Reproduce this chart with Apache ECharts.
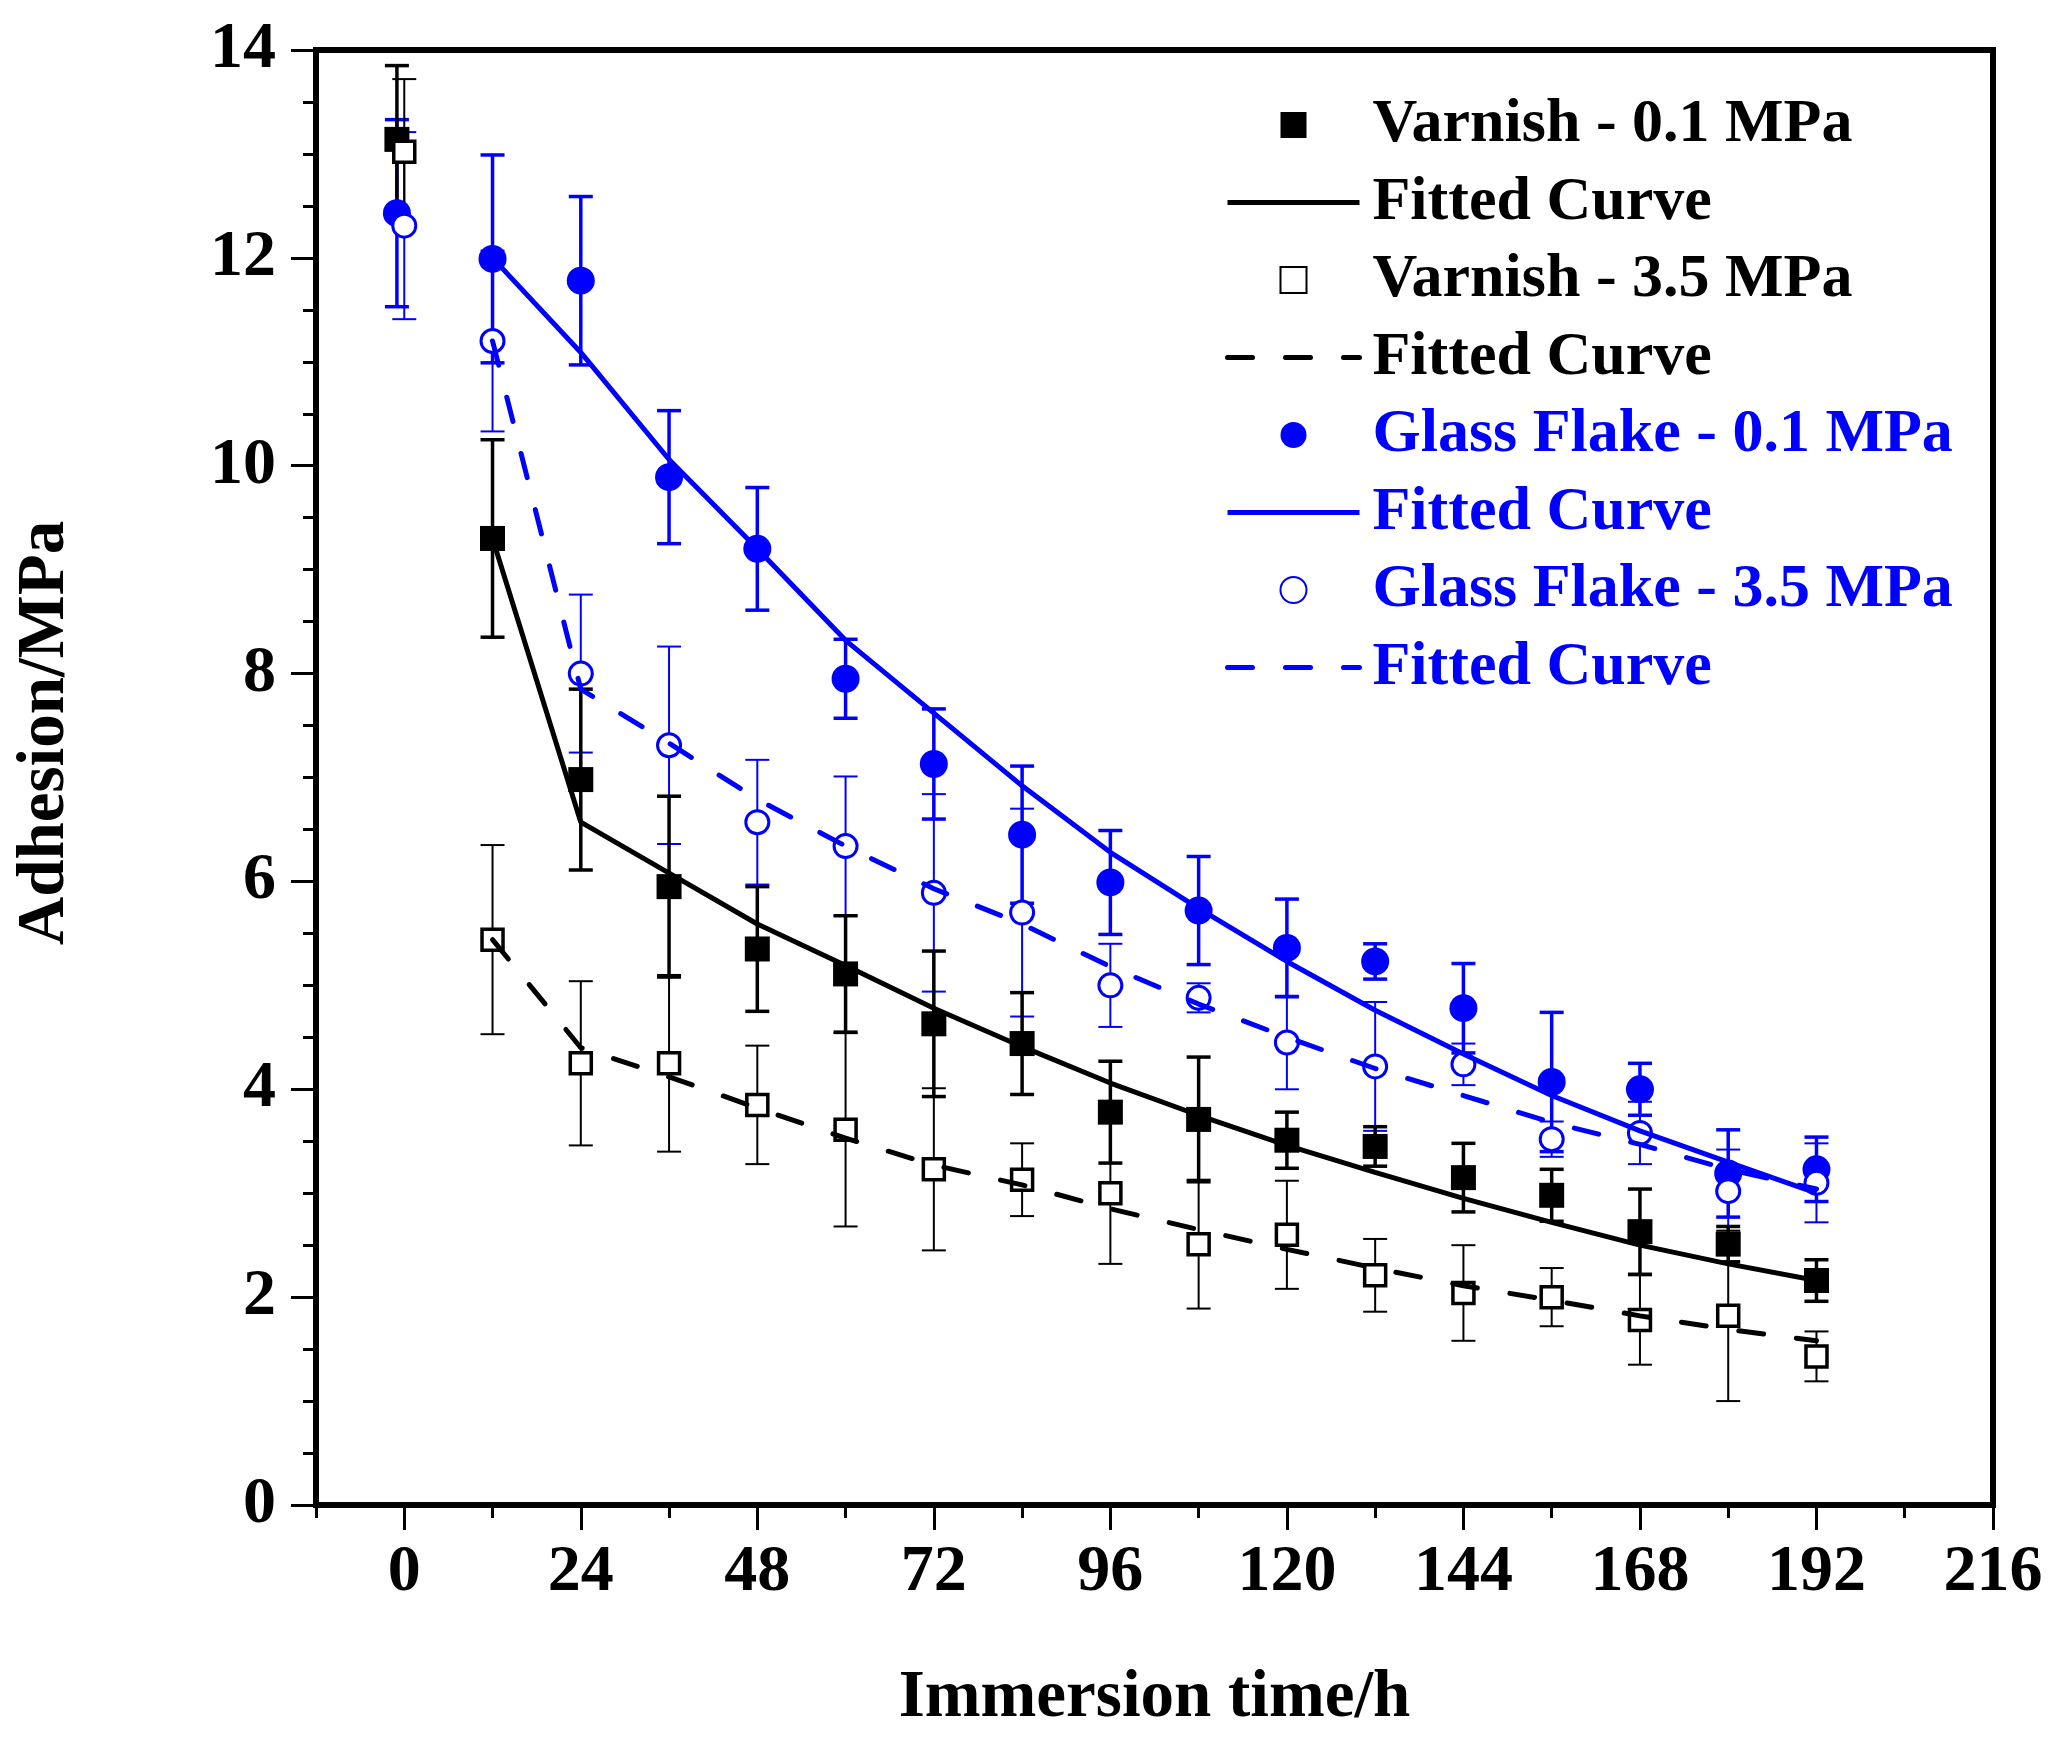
<!DOCTYPE html>
<html><head><meta charset="utf-8">
<script src="https://cdn.jsdelivr.net/npm/echarts@6/dist/echarts.min.js"></script>
<style>html,body{margin:0;padding:0;background:#fff}#c{width:2056px;height:1737px}</style>
</head><body><div id="c"></div>
<script>
// sample times (h); the 0.1 MPa points at t=0 are drawn slightly left of 0 in the original
const timesLow  = [-1, 12, 24, 36, 48, 60, 72, 84, 96, 108, 120, 132, 144, 156, 168, 180, 192];
const timesHigh = [0, 12, 24, 36, 48, 60, 72, 84, 96, 108, 120, 132, 144, 156, 168, 180, 192];
const fitTimes  = [12, 24, 36, 48, 60, 72, 84, 96, 108, 120, 132, 144, 156, 168, 180, 192];

const varnish01    = [13.14, 9.30, 6.98, 5.95, 5.35, 5.11, 4.63, 4.44, 3.78, 3.71, 3.51, 3.45, 3.15, 2.98, 2.63, 2.51, 2.16];
const varnish01Err = [0.71, 0.95, 0.87, 0.87, 0.60, 0.56, 0.70, 0.49, 0.49, 0.60, 0.27, 0.19, 0.33, 0.25, 0.41, 0.17, 0.20];
const varnish35    = [13.02, 5.44, 4.25, 4.25, 3.85, 3.61, 3.23, 3.13, 3.00, 2.51, 2.60, 2.21, 2.04, 2.00, 1.78, 1.82, 1.43];
const varnish35Err = [0.70, 0.91, 0.79, 0.85, 0.57, 0.93, 0.78, 0.35, 0.68, 0.62, 0.52, 0.35, 0.46, 0.28, 0.43, 0.82, 0.24];
const glass01      = [12.43, 11.99, 11.78, 9.89, 9.20, 7.95, 7.13, 6.45, 5.99, 5.72, 5.36, 5.23, 4.78, 4.07, 4.00, 3.19, 3.23];
const glass01Err   = [0.90, 1.00, 0.81, 0.64, 0.59, 0.38, 0.53, 0.66, 0.50, 0.52, 0.47, 0.17, 0.43, 0.67, 0.25, 0.42, 0.31];
const glass35      = [12.31, 11.20, 8.00, 7.31, 6.57, 6.34, 5.89, 5.70, 5.00, 4.88, 4.45, 4.22, 4.24, 3.52, 3.58, 3.02, 3.10];
const glass35Err   = [0.90, 0.87, 0.76, 0.95, 0.60, 0.67, 0.95, 1.00, 0.40, 0.14, 0.45, 0.62, 0.20, 0.17, 0.30, 0.40, 0.38];

const fitVarnish01 = [9.30, 6.57, 6.08, 5.59, 5.19, 4.78, 4.41, 4.06, 3.75, 3.46, 3.20, 2.95, 2.72, 2.50, 2.32, 2.16];
const fitVarnish35 = [5.44, 4.40, 4.12, 3.82, 3.53, 3.27, 3.08, 2.85, 2.65, 2.46, 2.28, 2.11, 1.97, 1.82, 1.69, 1.58];
const fitGlass01   = [12.00, 11.09, 10.06, 9.20, 8.32, 7.62, 6.92, 6.28, 5.74, 5.23, 4.76, 4.34, 3.94, 3.60, 3.30, 3.00];
const fitGlass35   = [11.20, 7.85, 7.33, 6.79, 6.34, 5.93, 5.59, 5.18, 4.82, 4.50, 4.20, 3.94, 3.68, 3.47, 3.23, 3.04];

const xMajorTicks = [0, 24, 48, 72, 96, 120, 144, 168, 192, 216];
const xMinorTicks = [-12, 12, 36, 60, 84, 108, 132, 156, 180, 204];

const BLUE = '#0000ff', BLACK = '#000000';
const FONT = 'Liberation Serif';
const NOSYM = { color: 'rgba(0,0,0,0)', borderColor: 'rgba(0,0,0,0)', borderWidth: 0, opacity: 0 };
const SQUARE_ICON = 'path://M0,0L10,0L10,10L0,10Z';

const pts = (xs, ys) => xs.map((x, i) => [x, ys[i]]);
const errs = (xs, ys, es) => xs.map((x, i) => [x, ys[i] - es[i], ys[i] + es[i]]);

function errRender(color, width) {
  return function (params, api) {
    const x = api.value(0), lo = api.value(1), hi = api.value(2);
    const a = api.coord([x, hi]), b = api.coord([x, lo]);
    const hw = 12;
    const style = { stroke: color, lineWidth: width, fill: null };
    return { type: 'group', children: [
      { type: 'line', shape: { x1: a[0], y1: a[1], x2: b[0], y2: b[1] }, style: style },
      { type: 'line', shape: { x1: a[0] - hw, y1: a[1], x2: a[0] + hw, y2: a[1] }, style: style },
      { type: 'line', shape: { x1: b[0] - hw, y1: b[1], x2: b[0] + hw, y2: b[1] }, style: style }
    ]};
  };
}
function errSeries(name, data, color, width) {
  return { name: name, type: 'custom', renderItem: errRender(color, width), data: data,
           encode: { x: 0, y: [1, 2] }, z: 2, silent: true };
}

const chart = echarts.init(document.getElementById('c'), null, { renderer: 'canvas' });
chart.setOption({
  animation: false,
  backgroundColor: '#fff',
  grid: { left: 316, right: 63, top: 50, bottom: 230, show: true, borderColor: BLACK, borderWidth: 6 },
  xAxis: [{
    type: 'value', min: -12, max: 216, position: 'bottom',
    axisLine: { show: true, onZero: false, lineStyle: { color: BLACK, width: 6 } },
    axisTick: { show: true, customValues: xMajorTicks, length: 25, lineStyle: { color: BLACK, width: 3 } },
    axisLabel: { show: true, customValues: xMajorTicks, margin: 35, color: BLACK,
                 fontFamily: FONT, fontWeight: 'bold', fontSize: 66 },
    splitLine: { show: false },
    name: 'Immersion time/h', nameLocation: 'middle', nameGap: 160,
    nameTextStyle: { color: BLACK, fontFamily: FONT, fontWeight: 'bold', fontSize: 67 }
  }, {
    type: 'value', min: -12, max: 216, position: 'bottom',
    axisLine: { show: false, onZero: false },
    axisTick: { show: true, customValues: xMinorTicks, length: 13, lineStyle: { color: BLACK, width: 3 } },
    axisLabel: { show: false }, splitLine: { show: false }
  }],
  yAxis: {
    type: 'value', min: 0, max: 14, interval: 2,
    axisLine: { show: true, onZero: false, lineStyle: { color: BLACK, width: 6 } },
    axisTick: { show: true, length: 25, lineStyle: { color: BLACK, width: 3 } },
    minorTick: { show: true, splitNumber: 4, length: 13, lineStyle: { color: BLACK, width: 3 } },
    axisLabel: { margin: 40, color: BLACK, fontFamily: FONT, fontWeight: 'bold', fontSize: 66 },
    splitLine: { show: false }
  },
  graphic: [{
    type: 'text', x: 46, y: 733, rotation: Math.PI / 2,
    style: { text: 'Adhesion/MPa', fill: BLACK, font: 'bold 67px "Liberation Serif"',
             align: 'center', verticalAlign: 'middle' }
  }],
  legend: {
    orient: 'vertical', left: 1220, top: 89, itemWidth: 132, itemHeight: 26, itemGap: 15.5,
    selectedMode: false, symbolKeepAspect: true,
    textStyle: { fontFamily: FONT, fontWeight: 'bold', fontSize: 62, lineHeight: 60, padding: [0, 0, 0, 8] },
    formatter: function (n) { return n.indexOf('Fitted Curve') === 0 ? 'Fitted Curve' : n; },
    data: [
      { name: 'Varnish - 0.1 MPa', icon: SQUARE_ICON, textStyle: { color: BLACK } },
      { name: 'Fitted Curve (V 0.1)', itemStyle: NOSYM, lineStyle: { width: 5 }, textStyle: { color: BLACK } },
      { name: 'Varnish - 3.5 MPa', icon: SQUARE_ICON, textStyle: { color: BLACK } },
      { name: 'Fitted Curve (V 3.5)', itemStyle: NOSYM, lineStyle: { width: 5 }, textStyle: { color: BLACK } },
      { name: 'Glass Flake - 0.1 MPa', icon: 'circle', textStyle: { color: BLUE } },
      { name: 'Fitted Curve (G 0.1)', itemStyle: NOSYM, lineStyle: { width: 5 }, textStyle: { color: BLUE } },
      { name: 'Glass Flake - 3.5 MPa', icon: 'circle', textStyle: { color: BLUE } },
      { name: 'Fitted Curve (G 3.5)', itemStyle: NOSYM, lineStyle: { width: 5 }, textStyle: { color: BLUE } }
    ]
  },
  series: [
    errSeries('err-g01', errs(timesLow, glass01, glass01Err), BLUE, 3.5),
    errSeries('err-g35', errs(timesHigh, glass35, glass35Err), BLUE, 2),
    errSeries('err-v01', errs(timesLow, varnish01, varnish01Err), BLACK, 3.5),
    errSeries('err-v35', errs(timesHigh, varnish35, varnish35Err), BLACK, 2),
    { name: 'Varnish - 0.1 MPa', type: 'scatter', data: pts(timesLow, varnish01), symbol: 'rect', symbolSize: 25,
      itemStyle: { color: BLACK, opacity: 1 }, z: 3, silent: true },
    { name: 'Varnish - 3.5 MPa', type: 'scatter', data: pts(timesHigh, varnish35), symbol: 'rect', symbolSize: 21,
      itemStyle: { color: '#ffffff', borderColor: BLACK, borderWidth: 3.5, opacity: 1 }, z: 3, silent: true },
    { name: 'Glass Flake - 0.1 MPa', type: 'scatter', data: pts(timesLow, glass01), symbol: 'circle', symbolSize: 28,
      itemStyle: { color: BLUE, opacity: 1 }, z: 3, silent: true },
    { name: 'Glass Flake - 3.5 MPa', type: 'scatter', data: pts(timesHigh, glass35), symbol: 'circle', symbolSize: 23,
      itemStyle: { color: '#ffffff', borderColor: BLUE, borderWidth: 3, opacity: 1 }, z: 3, silent: true },
    { name: 'Fitted Curve (V 0.1)', type: 'line', data: pts(fitTimes, fitVarnish01), symbol: 'none',
      lineStyle: { color: BLACK, width: 5 }, itemStyle: { color: BLACK }, z: 4, silent: true },
    { name: 'Fitted Curve (V 3.5)', type: 'line', data: pts(fitTimes, fitVarnish35), symbol: 'none',
      lineStyle: { color: BLACK, width: 5, type: [25, 33], cap: 'round' }, itemStyle: { color: BLACK }, z: 4, silent: true },
    { name: 'Fitted Curve (G 0.1)', type: 'line', data: pts(fitTimes, fitGlass01), symbol: 'none',
      lineStyle: { color: BLUE, width: 5 }, itemStyle: { color: BLUE }, z: 4, silent: true },
    { name: 'Fitted Curve (G 3.5)', type: 'line', data: pts(fitTimes, fitGlass35), symbol: 'none',
      lineStyle: { color: BLUE, width: 5, type: [25, 33], cap: 'round' }, itemStyle: { color: BLUE }, z: 4, silent: true }
  ]
});
</script>
</body></html>
